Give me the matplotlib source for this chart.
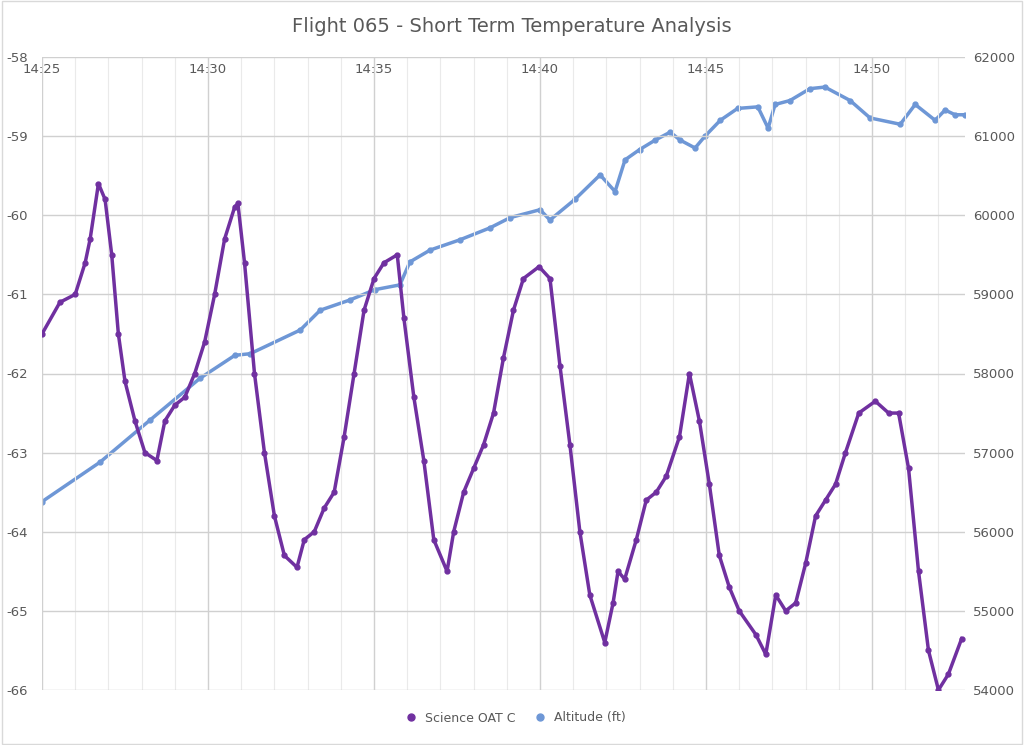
import matplotlib
matplotlib.use("Agg")
import matplotlib.pyplot as plt
import numpy as np
plt.rcParams['axes.unicode_minus'] = False

# minutes after 14:25
temp_t = [0,0.54,1.0,1.3,1.45,1.7,1.9,2.1,2.3,2.5,2.8,3.1,3.46,3.7,4.0,4.3,4.6,4.9,5.2,5.5,5.8,5.9,6.1,6.4,6.7,7.0,7.3,7.68,7.9,8.2,8.5,8.8,9.1,9.4,9.7,10.0,10.3,10.7,10.9,11.2,11.5,11.8,12.2,12.4,12.7,13.0,13.3,13.6,13.9,14.2,14.5,14.97,15.3,15.6,15.9,16.2,16.5,16.95,17.2,17.35,17.55,17.9,18.2,18.5,18.8,19.2,19.5,19.8,20.1,20.4,20.7,21.0,21.5,21.8,22.1,22.4,22.7,23.0,23.3,23.6,23.9,24.2,24.6,25.1,25.5,25.8,26.1,26.4,26.7,27.0,27.3,27.7]
temp_v = [-61.5,-61.1,-61.0,-60.6,-60.3,-59.6,-59.8,-60.5,-61.5,-62.1,-62.6,-63.0,-63.1,-62.6,-62.4,-62.3,-62.0,-61.6,-61.0,-60.3,-59.9,-59.85,-60.6,-62.0,-63.0,-63.8,-64.3,-64.45,-64.1,-64.0,-63.7,-63.5,-62.8,-62.0,-61.2,-60.8,-60.6,-60.5,-61.3,-62.3,-63.1,-64.1,-64.5,-64.0,-63.5,-63.2,-62.9,-62.5,-61.8,-61.2,-60.8,-60.65,-60.8,-61.9,-62.9,-64.0,-64.8,-65.4,-64.9,-64.5,-64.6,-64.1,-63.6,-63.5,-63.3,-62.8,-62.0,-62.6,-63.4,-64.3,-64.7,-65.0,-65.3,-65.55,-64.8,-65.0,-64.9,-64.4,-63.8,-63.6,-63.4,-63.0,-62.5,-62.35,-62.5,-62.5,-63.2,-64.5,-65.5,-66.0,-65.8,-65.35]

alt_t = [0,1.75,3.25,4.76,5.81,6.27,7.78,8.38,9.28,10.03,10.78,11.08,11.69,12.59,13.49,14.1,15.0,15.3,16.05,16.81,17.26,17.56,18.0,18.47,18.92,19.22,19.67,19.97,20.43,20.95,21.56,21.87,22.08,22.53,23.13,23.58,24.34,24.94,25.85,26.3,26.9,27.2,27.5,27.8]
alt_v = [56380,56880,57410,57940,58230,58250,58550,58800,58930,59060,59120,59410,59560,59690,59840,59970,60070,59940,60200,60510,60300,60700,60830,60950,61050,60950,60850,61000,61200,61350,61370,61100,61400,61450,61600,61620,61450,61230,61150,61400,61200,61330,61270,61270]

xticks = [0,5,10,15,20,25]
xlabels = ["14:25","14:30","14:35","14:40","14:45","14:50"]

purple = "#7030A0"
blue = "#6E97D6"

fig = plt.figure(figsize=(10.24,7.45), dpi=100)
ax = fig.add_axes([42/1024, 1-690/745, (965-42)/1024, (690-57)/745])
ax2 = ax.twinx()

ax.set_xlim(0, 27.8)
ax.set_ylim(-66, -58)
ax2.set_ylim(54000, 62000)
ax.set_yticks(np.arange(-66, -57, 1))
ax2.set_yticks(np.arange(54000, 62001, 1000))
ax.set_xticks(xticks)
ax.set_xticklabels(xlabels)
ax.set_xticks(np.arange(0, 28, 1), minor=True)
ax.xaxis.tick_top()
ax.tick_params(axis='x', which='both', length=0, labelsize=9.5, colors="#595959", pad=-14)
ax.tick_params(axis='y', length=0, labelsize=9.5, colors="#595959", pad=10)
ax2.tick_params(axis='y', length=0, labelsize=9.5, colors="#595959", pad=6)
ax.grid(True, which='major', color="#D0D0D0", lw=1)
ax.grid(True, which='minor', axis='x', color="#EAEAEA", lw=0.8)
for a in (ax, ax2):
    for s in a.spines.values():
        s.set_visible(False)

ax.plot(temp_t, temp_v, color=purple, lw=2.5, marker='o', ms=3.5, zorder=3)
ax2.plot(alt_t, alt_v, color=blue, lw=2.5, marker='o', ms=3.5, zorder=2)
ax.set_zorder(ax2.get_zorder()+1); ax.patch.set_visible(False)

h1 = plt.Line2D([], [], color=purple, marker='o', ls='', ms=5)
h2 = plt.Line2D([], [], color=blue, marker='o', ls='', ms=5)
fig.legend([h1, h2], ["Science OAT C", "Altitude (ft)"], loc='center', bbox_to_anchor=(0.5, 1-718/745),
           ncol=2, frameon=False, fontsize=9, handletextpad=0.1, columnspacing=1.0, labelcolor="#595959")
fig.text(0.5, 1-27/745, "Flight 065 - Short Term Temperature Analysis", ha='center', va='center',
         fontsize=14, color="#595959")
fig.patches.append(plt.Rectangle((0.002, 0.002), 0.996, 0.996, transform=fig.transFigure,
                                 fill=False, edgecolor="#D9D9D9", lw=1))
fig.savefig("out.png", dpi=100)
